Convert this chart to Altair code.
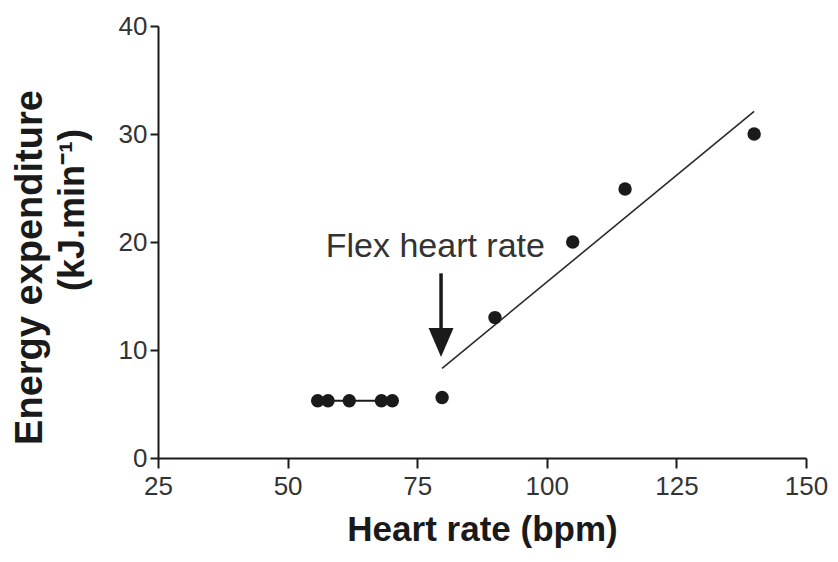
import altair as alt
import pandas as pd

# Data
heart_rate = [55.8, 57.8, 61.9, 68.1, 70.2, 79.8, 90.0, 105.0, 115.1, 140.0]
energy = [5.3, 5.3, 5.3, 5.3, 5.3, 5.6, 13.0, 20.0, 24.9, 30.0]

flat_x = [55.8, 57.8, 61.9, 68.1, 70.2]
flat_y = [5.3, 5.3, 5.3, 5.3, 5.3]

fit_x = [79.8, 140.0]
fit_y = [8.3, 32.1]

arrow_x = [79.6]
arrow_top = [17.1]
arrow_base = [12.0]
arrow_head = [10.7]

label_text = ["Flex heart rate"]
label_x = [78.5]
label_y = [19.5]

x_ticks = [25, 50, 75, 100, 125, 150]
y_ticks = [0, 10, 20, 30, 40]

FONT = "Liberation Sans"
INK = "#1a1a1a"

pts = pd.DataFrame({"hr": heart_rate, "ee": energy})
flat = pd.DataFrame({"hr": flat_x, "ee": flat_y})
fit = pd.DataFrame({"hr": fit_x, "ee": fit_y})
arrow = pd.DataFrame({"hr": arrow_x, "top": arrow_top, "base": arrow_base, "head": arrow_head})
lab = pd.DataFrame({"hr": label_x, "ee": label_y, "t": label_text})

xscale = alt.Scale(domain=[25, 150], nice=False, zero=False)
yscale = alt.Scale(domain=[0, 40], nice=False)

xaxis = alt.Axis(
    values=x_ticks, grid=False, title="Heart rate (bpm)",
    titleFont=FONT, titleFontSize=35, titleFontWeight="bold", titleColor=INK,
    titleY=71, titleBaseline="middle",
    labelFont=FONT, labelFontSize=26, labelColor="#333333", labelPadding=5,
    tickSize=10, tickWidth=2, tickColor=INK, domainColor=INK, domainWidth=2,
    labelFlush=False,
)
yaxis = alt.Axis(
    values=y_ticks, grid=False, title="Energy expenditure",
    titleFont=FONT, titleFontSize=38, titleFontWeight="bold", titleColor=INK,
    titleX=-128, titleY=241, titleAngle=270, titleBaseline="middle", titleAlign="center",
    labelFont=FONT, labelFontSize=26, labelColor="#333333", labelPadding=3,
    tickSize=8, tickWidth=2, tickColor=INK, domainColor=INK, domainWidth=2,
    labelFlush=False,
)

base_x = alt.X("hr:Q", scale=xscale, axis=xaxis)
base_y = alt.Y("ee:Q", scale=yscale, axis=yaxis)

points = alt.Chart(pts).mark_circle(size=180, color=INK, opacity=1).encode(x=base_x, y=base_y)

flat_line = alt.Chart(flat).mark_line(color=INK, strokeWidth=2).encode(
    x=alt.X("hr:Q", scale=xscale), y=alt.Y("ee:Q", scale=yscale)
)

fit_line = alt.Chart(fit).mark_line(color="#2a2a2a", strokeWidth=1.6).encode(
    x=alt.X("hr:Q", scale=xscale), y=alt.Y("ee:Q", scale=yscale)
)

shaft = alt.Chart(arrow).mark_rule(color=INK, strokeWidth=3.5).encode(
    x=alt.X("hr:Q", scale=xscale),
    y=alt.Y("top:Q", scale=yscale),
    y2="base:Q",
)

head = alt.Chart(arrow).mark_point(
    shape="M-0.86,-1L0.86,-1L0,1Z", size=841, filled=True, color=INK, opacity=1
).encode(
    x=alt.X("hr:Q", scale=xscale),
    y=alt.Y("head:Q", scale=yscale),
)

annot = alt.Chart(lab).mark_text(
    font=FONT, fontSize=34, color="#333333", align="center", baseline="middle"
).encode(
    x=alt.X("hr:Q", scale=xscale), y=alt.Y("ee:Q", scale=yscale), text="t:N"
)

unit = alt.Chart(lab).mark_text(
    font=FONT, fontSize=36, fontWeight="bold", color=INK, angle=270,
    align="center", baseline="middle", text="(kJ.min⁻¹)"
).encode(x=alt.value(-85), y=alt.value(184))

chart = (
    alt.layer(flat_line, fit_line, points, shaft, head, annot, unit)
    .properties(
        width=648, height=432,
        autosize=alt.AutoSizeParams(type="none"),
        padding={"left": 150, "top": 18, "right": 22, "bottom": 92},
    )
    .configure(background="white")
    .configure_view(strokeWidth=0, stroke="transparent")
)

chart.save("out.html", embed_options={"renderer": "svg", "actions": False})
